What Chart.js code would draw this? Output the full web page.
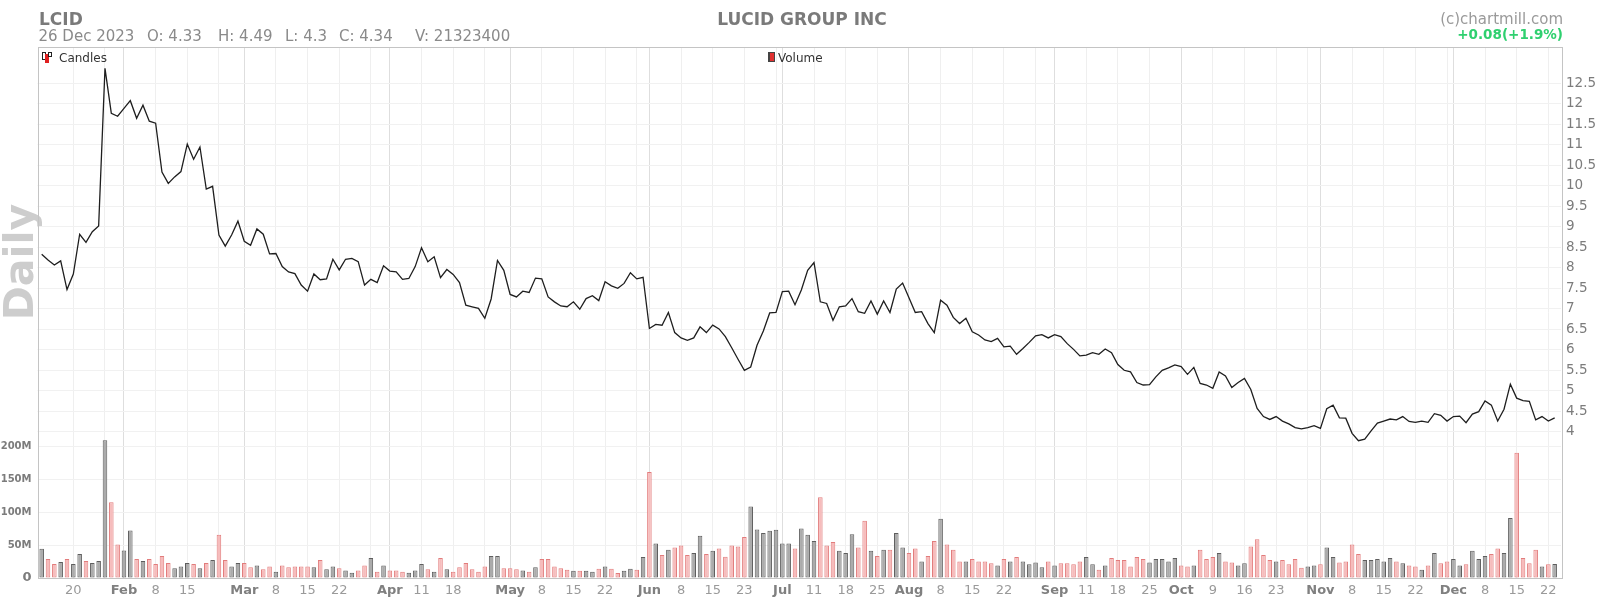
<!DOCTYPE html>
<html>
<head>
<meta charset="utf-8">
<script src="https://cdn.jsdelivr.net/npm/chart.js"></script>
<style>
  html, body { margin: 0; padding: 0; background: #fff; }
  #wrap { position: relative; width: 1600px; height: 612px; font-family: 'DejaVu Sans', sans-serif; overflow: hidden; }
  #wrap .t { position: absolute; white-space: pre; }
  #chart { position: absolute; left: 0; top: 0; }
  .ic { position: absolute; box-sizing: border-box; }
</style>
</head>
<body>
<div id="wrap">
  <canvas id="chart" width="1600" height="612"></canvas>
  <div class="t" style="left:39px;top:11px;font:bold 17px/17px 'DejaVu Sans';color:#7a7a7a">LCID</div>
  <div class="t" style="left:0;width:1604px;text-align:center;top:11px;font:bold 17px/17px 'DejaVu Sans';color:#7a7a7a">LUCID GROUP INC</div>
  <div class="t" style="left:38.5px;top:29px;font:15px/15px 'DejaVu Sans';color:#8a8a8a">26 Dec 2023</div>
  <div class="t" style="left:147px;top:29px;font:15px/15px 'DejaVu Sans';color:#8a8a8a">O: 4.33</div>
  <div class="t" style="left:218px;top:29px;font:15px/15px 'DejaVu Sans';color:#8a8a8a">H: 4.49</div>
  <div class="t" style="left:285px;top:29px;font:15px/15px 'DejaVu Sans';color:#8a8a8a">L: 4.3</div>
  <div class="t" style="left:339px;top:29px;font:15px/15px 'DejaVu Sans';color:#8a8a8a">C: 4.34</div>
  <div class="t" style="left:415px;top:29px;font:15px/15px 'DejaVu Sans';color:#8a8a8a">V: 21323400</div>
  <div class="t" style="right:37px;top:12px;font:15px/15px 'DejaVu Sans';color:#9a9a9a">(c)chartmill.com</div>
  <div class="t" style="right:37px;top:28px;font:bold 13.5px/13.5px 'DejaVu Sans';color:#2fd06f">+0.08(+1.9%)</div>

  <!-- legend -->
  <div class="ic" style="left:42px;top:52px;width:4px;height:8px;border:1px solid #222;background:#fff"></div>
  <div class="ic" style="left:45px;top:54px;width:4px;height:9px;background:#e02020"></div>
  <div class="ic" style="left:48px;top:52px;width:4px;height:5px;border:1px solid #222;background:#fff"></div>
  <div class="t" style="left:59px;top:52px;font:12px/12px 'DejaVu Sans';color:#333">Candles</div>
  <div class="ic" style="left:768px;top:52px;width:7px;height:10px;border:1px solid #444;border-left-width:2px;background:#e03030"></div>
  <div class="t" style="left:778px;top:52px;font:12px/12px 'DejaVu Sans';color:#333">Volume</div>
</div>
<script>
// trading sessions shown, Jan 12 - Dec 26 2023
const janDays = [12, 13, 17, 18, 19, 20, 23, 24, 25, 26, 27, 30, 31];
const febDays = [1, 2, 3, 6, 7, 8, 9, 10, 13, 14, 15, 16, 17, 21, 22, 23, 24, 27, 28];
const marDays = [1, 2, 3, 6, 7, 8, 9, 10, 13, 14, 15, 16, 17, 20, 21, 22, 23, 24, 27, 28, 29, 30, 31];
const aprDays = [3, 4, 5, 6, 10, 11, 12, 13, 14, 17, 18, 19, 20, 21, 24, 25, 26, 27, 28];
const mayDays = [1, 2, 3, 4, 5, 8, 9, 10, 11, 12, 15, 16, 17, 18, 19, 22, 23, 24, 25, 26, 30, 31];
const junDays = [1, 2, 5, 6, 7, 8, 9, 12, 13, 14, 15, 16, 20, 21, 22, 23, 26, 27, 28, 29, 30];
const julDays = [3, 5, 6, 7, 10, 11, 12, 13, 14, 17, 18, 19, 20, 21, 24, 25, 26, 27, 28, 31];
const augDays = [1, 2, 3, 4, 7, 8, 9, 10, 11, 14, 15, 16, 17, 18, 21, 22, 23, 24, 25, 28, 29, 30, 31];
const sepDays = [1, 5, 6, 7, 8, 11, 12, 13, 14, 15, 18, 19, 20, 21, 22, 25, 26, 27, 28, 29];
const octDays = [2, 3, 4, 5, 6, 9, 10, 11, 12, 13, 16, 17, 18, 19, 20, 23, 24, 25, 26, 27, 30, 31];
const novDays = [1, 2, 3, 6, 7, 8, 9, 10, 13, 14, 15, 16, 17, 20, 21, 22, 24, 27, 28, 29, 30];
const decDays = [1, 4, 5, 6, 7, 8, 11, 12, 13, 14, 15, 18, 19, 20, 21, 22, 26];
const monthNames = ['Jan', 'Feb', 'Mar', 'Apr', 'May', 'Jun', 'Jul', 'Aug', 'Sep', 'Oct', 'Nov', 'Dec'];

// daily close
const closePrice = [
	8.33, 8.19, 8.07, 8.17, 7.47, 7.85, 8.82, 8.62, 8.88, 9.02, 12.87, 11.77, 11.70,
	11.89, 12.08, 11.65, 11.97, 11.58, 11.53, 10.34, 10.06, 10.22, 10.35, 11.02, 10.65, 10.95, 9.92, 9.99, 8.80, 8.53, 8.80, 9.14,
	8.65, 8.55, 8.95, 8.82, 8.34, 8.35, 8.03, 7.90, 7.86, 7.58, 7.43, 7.85, 7.71, 7.73, 8.21, 7.95, 8.21, 8.23, 8.15, 7.58, 7.72, 7.64, 8.05,
	7.92, 7.90, 7.72, 7.74, 8.03, 8.49, 8.15, 8.27, 7.76, 7.96, 7.84, 7.64, 7.09, 7.05, 7.01, 6.77, 7.24, 8.18, 7.94,
	7.35, 7.29, 7.43, 7.40, 7.75, 7.73, 7.29, 7.17, 7.07, 7.05, 7.17, 6.99, 7.25, 7.32, 7.20, 7.66, 7.56, 7.50, 7.62, 7.88, 7.73, 7.77,
	6.52, 6.62, 6.60, 6.91, 6.42, 6.29, 6.23, 6.29, 6.56, 6.42, 6.60, 6.51, 6.32, 6.05, 5.77, 5.50, 5.58, 6.11, 6.46, 6.90, 6.91,
	7.42, 7.43, 7.10, 7.46, 7.94, 8.13, 7.17, 7.13, 6.72, 7.05, 7.07, 7.25, 6.93, 6.89, 7.19, 6.87, 7.19, 6.91, 7.48, 7.63,
	7.27, 6.91, 6.93, 6.64, 6.42, 7.21, 7.09, 6.79, 6.64, 6.77, 6.44, 6.36, 6.24, 6.20, 6.28, 6.07, 6.09, 5.89, 6.03, 6.18, 6.34, 6.37, 6.29,
	6.37, 6.32, 6.15, 6.01, 5.85, 5.87, 5.93, 5.89, 6.02, 5.93, 5.64, 5.50, 5.46, 5.20, 5.14, 5.15, 5.34, 5.50, 5.56, 5.63,
	5.59, 5.40, 5.57, 5.18, 5.14, 5.06, 5.46, 5.36, 5.08, 5.20, 5.30, 5.03, 4.57, 4.37, 4.30, 4.37, 4.26, 4.19, 4.10, 4.07, 4.10, 4.15,
	4.08, 4.56, 4.65, 4.34, 4.33, 3.96, 3.78, 3.82, 4.02, 4.21, 4.26, 4.31, 4.29, 4.37, 4.25, 4.23, 4.26, 4.23, 4.44, 4.40, 4.26,
	4.37, 4.38, 4.22, 4.43, 4.49, 4.75, 4.65, 4.26, 4.55, 5.16, 4.82, 4.76, 4.74, 4.29, 4.37, 4.26, 4.34,
];

// daily volume, millions of shares
const volumeM = [
	44.6, 28.9, 21.3, 24.3, 28.9, 21.3, 36.5, 25.8, 22.8, 25.8, 210, 115.4, 51.1,
	42.0, 72.4, 28.9, 25.8, 28.9, 21.3, 33.4, 22.8, 14.7, 17.7, 22.8, 21.3, 14.7, 22.8, 27.3, 65.8, 27.3, 17.7, 22.8,
	22.8, 16.2, 19.2, 13.2, 17.7, 9.6, 19.2, 16.2, 17.7, 17.7, 17.7, 16.2, 27.3, 13.2, 17.7, 14.7, 11.6, 8.1, 11.6, 19.2, 30.4, 9.6, 19.2,
	11.6, 11.6, 9.6, 8.1, 11.6, 21.3, 13.2, 9.6, 30.4, 13.2, 9.6, 16.2, 22.8, 13.2, 9.6, 17.7, 33.4, 33.4, 14.7,
	14.7, 13.2, 11.6, 9.6, 16.2, 28.9, 28.9, 17.7, 14.7, 12.7, 11.1, 11.1, 11.1, 9.6, 14.2, 17.7, 14.2, 7.6, 11.1, 14.2, 12.7, 31.9,
	161.5, 52.7, 34.9, 43.0, 46.6, 49.6, 34.9, 38.0, 64.3, 36.5, 41.5, 45.1, 32.4, 49.6, 48.1, 62.3, 108.9, 73.9, 68.4, 71.9, 73.4,
	52.7, 52.7, 45.1, 75.4, 65.8, 56.2, 123, 49.6, 54.7, 41.5, 38.0, 66.8, 46.6, 87.1, 41.5, 33.4, 43.0, 43.0, 68.4, 46.6,
	38.0, 45.1, 25.3, 33.4, 56.2, 90.1, 51.1, 43.0, 25.3, 25.3, 28.9, 25.3, 25.3, 22.3, 19.2, 28.9, 25.3, 31.9, 25.3, 20.8, 23.8, 16.2, 25.3,
	19.2, 22.3, 22.3, 20.8, 25.3, 31.9, 20.8, 12.7, 19.2, 30.4, 27.3, 27.3, 17.7, 31.9, 28.9, 23.8, 28.9, 28.9, 25.3, 30.4,
	19.2, 17.7, 19.2, 43.0, 28.9, 31.9, 38.0, 25.3, 23.8, 19.2, 22.3, 48.1, 59.2, 34.9, 27.3, 25.3, 27.3, 20.8, 28.9, 15.7, 17.7, 19.2,
	20.8, 46.6, 31.9, 23.8, 25.3, 51.1, 36.5, 27.3, 27.3, 28.9, 25.3, 30.4, 25.3, 22.3, 19.2, 17.7, 12.7, 19.2, 38.0, 22.3, 25.3,
	28.9, 19.2, 20.8, 41.5, 28.9, 33.4, 36.5, 45.1, 38.0, 91.6, 190.9, 30.4, 22.3, 43.0, 17.7, 20.8, 21.3,
];

// x axis ticks (gridline on each, text only where shown)
const tickDays = ['Jan 20', 'Jan 27', 'Feb 1', 'Feb 8', 'Feb 15', 'Feb 23', 'Mar 1', 'Mar 8', 'Mar 15', 'Mar 22', 'Mar 29',
	'Apr 3', 'Apr 11', 'Apr 18', 'Apr 25', 'May 1', 'May 8', 'May 15', 'May 22', 'May 30', 'Jun 1', 'Jun 8', 'Jun 15', 'Jun 23', 'Jun 30',
	'Jul 3', 'Jul 11', 'Jul 18', 'Jul 25', 'Aug 1', 'Aug 8', 'Aug 15', 'Aug 22', 'Aug 29', 'Sep 1', 'Sep 11', 'Sep 18', 'Sep 25',
	'Oct 2', 'Oct 9', 'Oct 16', 'Oct 23', 'Oct 30', 'Nov 1', 'Nov 8', 'Nov 15', 'Nov 22', 'Nov 30', 'Dec 1', 'Dec 8', 'Dec 15', 'Dec 22'];
const tickText = ['20', '', 'Feb', '8', '15', '', 'Mar', '8', '15', '22', '',
	'Apr', '11', '18', '', 'May', '8', '15', '22', '', 'Jun', '8', '15', '23', '',
	'Jul', '11', '18', '25', 'Aug', '8', '15', '22', '', 'Sep', '11', '18', '25',
	'Oct', '9', '16', '23', '', 'Nov', '8', '15', '22', '', 'Dec', '8', '15', '22'];
const priceTicks = [4, 4.5, 5, 5.5, 6, 6.5, 7, 7.5, 8, 8.5, 9, 9.5, 10, 10.5, 11, 11.5, 12, 12.5];
const volumeTicks = [0, 50, 100, 150, 200];

const dayLabels = [];
[janDays, febDays, marDays, aprDays, mayDays, junDays, julDays, augDays, sepDays, octDays, novDays, decDays].forEach((days, m) => {
	days.forEach((d) => dayLabels.push(monthNames[m] + ' ' + d));
});
const tickIdx = tickDays.map((d) => dayLabels.indexOf(d));
const isMonth = (i) => /^[A-Z]/.test(tickText[i]);

const isUp = closePrice.map((c, i) => i === 0 || c >= closePrice[i - 1]);
const barFill = isUp.map((u) => (u ? '#ababab' : '#f6bcbc'));
const barEdge = isUp.map((u) => (u ? '#5e5e5e' : '#e27c7c'));

const fontFamily = "'DejaVu Sans', sans-serif";

const framePlugin = {
	id: 'frame',
	beforeDraw(chart) {
		const ctx = chart.ctx;
		ctx.save();
		ctx.translate(33, 262);
		ctx.rotate(-Math.PI / 2);
		ctx.font = 'bold 41px ' + fontFamily;
		ctx.fillStyle = '#cdcdcd';
		ctx.textAlign = 'center';
		ctx.textBaseline = 'alphabetic';
		ctx.fillText('Daily', 0, 0);
		ctx.restore();
	},
	beforeDatasetsDraw(chart) {
		const a = chart.chartArea;
		const ctx = chart.ctx;
		ctx.save();
		ctx.strokeStyle = '#c4c4c4';
		ctx.lineWidth = 1;
		ctx.strokeRect(Math.round(a.left) + 0.5, Math.round(a.top) + 0.5, Math.round(a.right - a.left), Math.round(a.bottom - a.top));
		ctx.restore();
	},
};

new Chart(document.getElementById('chart'), {
	data: {
		datasets: [
			{
				type: 'line',
				data: closePrice.map((c, i) => ({ x: i, y: c })),
				yAxisID: 'y',
				borderColor: '#1e1e1e',
				borderWidth: 1.3,
				pointRadius: 0,
				tension: 0,
				order: 1,
			},
			{
				type: 'bar',
				data: volumeM.map((v, i) => ({ x: i, y: v })),
				yAxisID: 'y1',
				backgroundColor: barFill,
				borderColor: barEdge,
				borderWidth: 1,
				borderSkipped: false,
				barPercentage: 0.72,
				categoryPercentage: 1,
				order: 2,
			},
		],
	},
	options: {
		responsive: false,
		animation: false,
		devicePixelRatio: 1,
		layout: { padding: { top: 47, left: 0, right: 0, bottom: 0 } },
		plugins: { legend: { display: false }, tooltip: { enabled: false } },
		scales: {
			x: {
				type: 'linear',
				min: -0.66,
				max: 240.0,
				offset: false,
				afterFit: (s) => { s.height = 34; },
				afterBuildTicks: (s) => { s.ticks = tickIdx.map((v) => ({ value: v })); },
				border: { display: false },
				grid: {
					offset: false,
					drawTicks: false,
					color: (c) => (isMonth(c.index) ? '#dedede' : '#efefef'),
				},
				ticks: {
					autoSkip: false,
					maxRotation: 0,
					minRotation: 0,
					padding: 5,
					callback: (v, i) => tickText[i],
					color: (c) => (isMonth(c.index) ? '#808080' : '#9a9a9a'),
					font: (c) => ({ family: fontFamily, size: 13, weight: isMonth(c.index) ? 'bold' : 'normal' }),
				},
			},
			y: {
				position: 'right',
				min: 0.43,
				max: 13.39,
				bounds: 'data',
				afterFit: (s) => { s.width = 39; },
				afterBuildTicks: (s) => { s.ticks = priceTicks.map((v) => ({ value: v })); },
				border: { display: false },
				grid: { drawTicks: false, color: '#f1f1f1' },
				ticks: {
					padding: 5,
					color: '#7c7c7c',
					font: { family: fontFamily, size: 13.5 },
					callback: (v) => String(v),
				},
			},
			y1: {
				position: 'left',
				min: 0,
				max: 809,
				bounds: 'data',
				afterFit: (s) => { s.width = 37.5; },
				afterBuildTicks: (s) => { s.ticks = volumeTicks.map((v) => ({ value: v })); },
				border: { display: false },
				grid: { drawTicks: false, color: '#f1f1f1' },
				ticks: {
					padding: 6,
					color: '#7c7c7c',
					font: (c) => ({ family: fontFamily, size: c.tick && c.tick.value === 0 ? 13 : 10, weight: 'bold' }),
					callback: (v) => (v === 0 ? '0' : v + 'M'),
				},
			},
		},
	},
	plugins: [framePlugin],
});
</script>
</body>
</html>
